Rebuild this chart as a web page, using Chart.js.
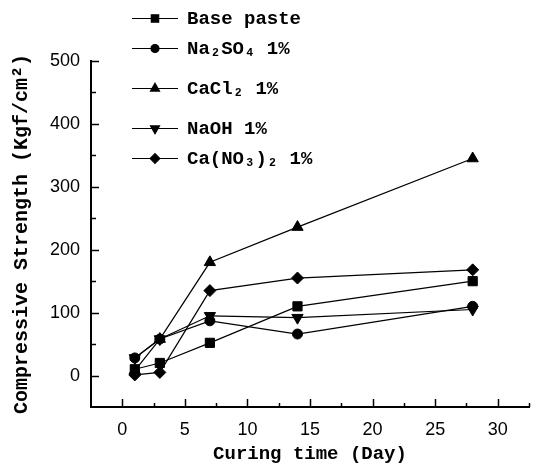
<!DOCTYPE html>
<html>
<head>
<meta charset="utf-8">
<script src="https://cdn.jsdelivr.net/npm/chart.js@4/dist/chart.umd.min.js"></script>
<style>
  html, body { margin: 0; padding: 0; background: #fff; }
</style>
</head>
<body>
<canvas id="strength-chart" width="541" height="468"></canvas>
<script>
/* ─── DATA ─── */
const days        = [1, 3, 7, 14, 28];
const basePaste   = [10, 20, 52, 110, 150];
const na2so4      = [28, 58, 87, 66, 110];
const cacl2       = [8, 58, 180, 236, 345];
const naoh        = [28, 58, 95, 92, 105];
const caNo3       = [1, 5, 135, 155, 168];
const seriesNames = ['Base paste', 'Na₂SO₄ 1%', 'CaCl₂ 1%', 'NaOH 1%', 'Ca(NO₃)₂ 1%'];
const xTickLabels = [0, 5, 10, 15, 20, 25, 30];
const yTickLabels = [0, 100, 200, 300, 400, 500];

const MONO = '"Liberation Mono", "DejaVu Sans Mono", monospace';
const SANS = '"Liberation Sans", Arial, sans-serif';

function pts(values) {
  return days.map((d, i) => ({ x: d, y: values[i] }));
}

const styles = [
  { pointStyle: 'rect', pointRadius: 6.5, rotation: 0 },
  { pointStyle: 'circle', pointRadius: 5, rotation: 0 },
  { pointStyle: 'triangle', pointRadius: 6.5, rotation: 0 },
  { pointStyle: 'triangle', pointRadius: 6.5, rotation: 180 },
  { pointStyle: 'rectRot', pointRadius: 6, rotation: 0 }
];

const seriesValues = [basePaste, na2so4, cacl2, naoh, caNo3];

const datasets = seriesValues.map((vals, i) => ({
  label: seriesNames[i],
  data: pts(vals),
  borderColor: '#000',
  backgroundColor: '#000',
  borderWidth: 1.2,
  pointStyle: styles[i].pointStyle,
  pointRadius: styles[i].pointRadius,
  pointRotation: styles[i].rotation,
  pointBackgroundColor: '#000',
  pointBorderColor: '#000',
  pointBorderWidth: 1,
  tension: 0,
  showLine: true
}));

/* ─── INWARD TICKS ─── */
const inwardTicks = {
  id: 'inwardTicks',
  afterDraw(chart) {
    const ctx = chart.ctx;
    const xs = chart.scales.x, ys = chart.scales.y;
    const area = chart.chartArea;
    ctx.save();
    ctx.strokeStyle = '#000';
    ctx.lineWidth = 1.5;
    ys.ticks.forEach(t => {
      if (t.value <= ys.min) return;
      const y = Math.round(ys.getPixelForValue(t.value)) + 0.5;
      const len = t.value % 100 === 0 ? 8 : 5;
      ctx.beginPath();
      ctx.moveTo(area.left, y);
      ctx.lineTo(area.left + len, y);
      ctx.stroke();
    });
    xs.ticks.forEach(t => {
      if (t.value <= xs.min) return;
      const x = Math.round(xs.getPixelForValue(t.value)) + 0.5;
      const len = t.value % 5 === 0 ? 8 : 4;
      ctx.beginPath();
      ctx.moveTo(x, area.bottom);
      ctx.lineTo(x, area.bottom - len);
      ctx.stroke();
    });
    ctx.restore();
  }
};

/* ─── LEGEND (column, top left) ─── */
const legendRows = [18, 48, 88, 128, 158];
const columnLegend = {
  id: 'columnLegend',
  afterDraw(chart) {
    const ctx = chart.ctx;
    ctx.save();
    chart.data.datasets.forEach((ds, i) => {
      const y = legendRows[i];
      ctx.strokeStyle = '#000';
      ctx.lineWidth = 1.2;
      ctx.beginPath();
      ctx.moveTo(132, y + 0.5);
      ctx.lineTo(178, y + 0.5);
      ctx.stroke();
      ctx.fillStyle = '#000';
      Chart.helpers.drawPoint(ctx, {
        pointStyle: ds.pointStyle,
        rotation: ds.pointRotation,
        radius: ds.pointRadius * 0.8,
        borderWidth: 1
      }, 155, y + 0.5);
      ctx.fillStyle = '#000';
      ctx.font = 'bold 19px ' + MONO;
      ctx.textAlign = 'left';
      ctx.textBaseline = 'middle';
      ctx.fillText(ds.label, 187, y + 1);
    });
    ctx.restore();
  }
};

new Chart(document.getElementById('strength-chart'), {
  type: 'line',
  data: { datasets },
  plugins: [inwardTicks, columnLegend],
  options: {
    responsive: false,
    animation: false,
    devicePixelRatio: 1,
    layout: { padding: { top: 61, right: 10, left: 0, bottom: 0 } },
    plugins: {
      legend: { display: false },
      tooltip: { enabled: false }
    },
    scales: {
      x: {
        type: 'linear',
        min: -2.5,
        max: 32.5,
        grid: { display: false, drawTicks: false },
        border: { display: true, color: '#000', width: 2 },
        ticks: {
          stepSize: 2.5,
          autoSkip: false,
          maxRotation: 0,
          padding: 12,
          color: '#000',
          font: { family: SANS, size: 18 },
          callback: v => xTickLabels.includes(v) ? String(v) : ''
        },
        title: {
          display: true,
          text: 'Curing time (Day)',
          color: '#000',
          font: { family: MONO, size: 19, weight: 'bold' },
          padding: { top: 4, bottom: 2 }
        },
        afterFit: s => { s.height = 61; }
      },
      y: {
        min: -50,
        max: 500,
        grid: { display: false, drawTicks: false },
        border: { display: true, color: '#000', width: 2 },
        ticks: {
          stepSize: 50,
          autoSkip: false,
          padding: 11,
          color: '#000',
          font: { family: SANS, size: 18 },
          callback: v => yTickLabels.includes(v) ? String(v) : ''
        },
        title: {
          display: true,
          text: 'Compressive Strength (Kgf/cm²)',
          color: '#000',
          font: { family: MONO, size: 20, weight: 'bold' },
          padding: { top: 10, bottom: 0 }
        },
        afterFit: s => { s.width = 91; }
      }
    }
  }
});
</script>
</body>
</html>
